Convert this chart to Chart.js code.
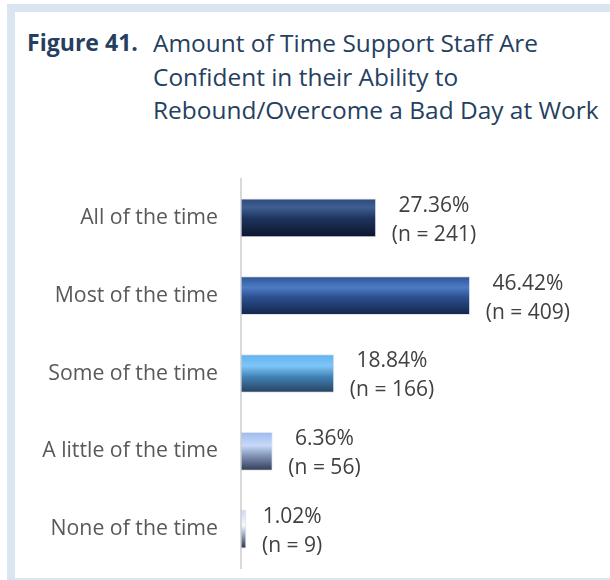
<!DOCTYPE html>
<html>
<head>
<meta charset="utf-8">
<script src="https://cdn.jsdelivr.net/npm/chart.js@4.4.1/dist/chart.umd.min.js"></script>
<style>
  html, body { margin:0; padding:0; background:#ffffff; }
  body { width:610px; height:580px; position:relative; overflow:hidden; font-family:"Open Sans", sans-serif; }
  .band { position:absolute; background:#dbe5f1; }
  #wrap { position:absolute; left:0; top:0; width:610px; height:580px; }
  #c { display:block; }
  #title { position:absolute; left:0; top:0; color:#263f61; white-space:nowrap; }
  #fig { position:absolute; left:27px; font-weight:bold; }
  #ttext { position:absolute; left:153px; }
</style>
</head>
<body>
<div class="band" style="left:7px;top:4px;width:603px;height:8px;"></div>
<div class="band" style="left:7px;top:4px;width:8px;height:576px;"></div>
<div class="band" style="left:7px;top:578px;width:603px;height:2px;"></div>
<div id="title">
  <div id="fig">Figure 41.</div>
  <div id="ttext">Amount of Time Support Staff Are<br>Confident in their Ability to<br>Rebound/Overcome a Bad Day at Work</div>
</div>
<div id="wrap"><canvas id="c" width="610" height="580"></canvas></div>
<script>
// ---- data ----
const categories = ["All of the time", "Most of the time", "Some of the time", "A little of the time", "None of the time"];
const percentages = [27.36, 46.42, 18.84, 6.36, 1.02];
const counts = [241, 409, 166, 56, 9];

// ---- styles ----
const FONT = "Open Sans";
const gradStops = [
  [[0,'#2d4a7a'],[0.22,'#3f5f93'],[0.5,'#1f3560'],[1,'#0b162c']],
  [[0,'#2f5596'],[0.28,'#4d7cc4'],[0.55,'#2b4f8f'],[1,'#14264b']],
  [[0,'#5fb2ee'],[0.3,'#7ec6f8'],[0.6,'#3f80b5'],[1,'#28425d']],
  [[0,'#9dbaee'],[0.35,'#c7d9f8'],[0.62,'#8092b6'],[1,'#333d57']],
  [[0,'#c7d8f5'],[0.4,'#f7faff'],[0.7,'#8d97b0'],[1,'#2c3346']]
];

const mctx = document.createElement('canvas').getContext('2d');
function fit(text, weight, target){
  mctx.font = weight + ' 100px "' + FONT + '"';
  return 100 * target / mctx.measureText(text).width;
}
const titleSize = fit("Rebound/Overcome a Bad Day at Work", "normal", 446);
const figSize = fit("Figure 41.", "bold", 111);
const tickSize = fit("All of the time", "normal", 138);
const valSize = fit("27.36%", "normal", 71);

const t = document.getElementById('ttext');
t.style.fontSize = titleSize + 'px';
t.style.lineHeight = '33.5px';
t.style.top = '26px';
const f = document.getElementById('fig');
f.style.fontSize = Math.min(figSize, titleSize) + 'px';
f.style.lineHeight = '33.5px';
f.style.top = '26px';

const BAR_T = 38;

const valueLabels = {
  id: 'valueLabels',
  afterDatasetsDraw(chart){
    const ctx = chart.ctx;
    const meta = chart.getDatasetMeta(0);
    ctx.save();
    ctx.font = valSize + 'px "' + FONT + '"';
    ctx.fillStyle = '#404040';
    ctx.textAlign = 'center';
    ctx.textBaseline = 'middle';
    meta.data.forEach((el, i) => {
      const l1 = percentages[i].toFixed(2) + '%';
      const l2 = '(n = ' + counts[i] + ')';
      const w = Math.max(ctx.measureText(l1).width, ctx.measureText(l2).width);
      const cx = el.x + 16 + w / 2;
      ctx.fillText(l1, cx, el.y - 12);
      ctx.fillText(l2, cx, el.y + 17);
    });
    ctx.restore();
  }
};

new Chart(document.getElementById('c'), {
  type: 'bar',
  data: {
    labels: categories,
    datasets: [{
      data: percentages,
      barThickness: BAR_T,
      borderWidth: 1,
      borderColor: 'rgba(160,180,210,0.35)',
      borderSkipped: false,
      backgroundColor: function(c){
        const ch = c.chart;
        const ys = ch.scales && ch.scales.y;
        const stops = gradStops[c.dataIndex] || gradStops[0];
        if (!ys || !ch.chartArea) return stops[0][1];
        const cy = ys.getPixelForValue(c.dataIndex);
        const g = ch.ctx.createLinearGradient(0, cy - BAR_T/2, 0, cy + BAR_T/2);
        stops.forEach(s => g.addColorStop(s[0], s[1]));
        return g;
      }
    }]
  },
  options: {
    indexAxis: 'y',
    responsive: false,
    animation: false,
    devicePixelRatio: 1,
    layout: { padding: { top: 179, bottom: 12, right: 24, left: 0 } },
    plugins: { legend: { display: false }, title: { display: false }, tooltip: { enabled: false } },
    scales: {
      x: { display: false, min: 0, max: 70 },
      y: {
        afterFit(scale){ scale.width = 241; scale.paddingTop = 0; scale.paddingBottom = 0; },
        grid: { display: false, drawTicks: false },
        border: { display: true, color: '#d9d9d9', width: 2 },
        ticks: { color: '#595959', padding: 23, font: { family: FONT, size: tickSize } }
      }
    }
  },
  plugins: [valueLabels]
});
</script>
</body>
</html>
